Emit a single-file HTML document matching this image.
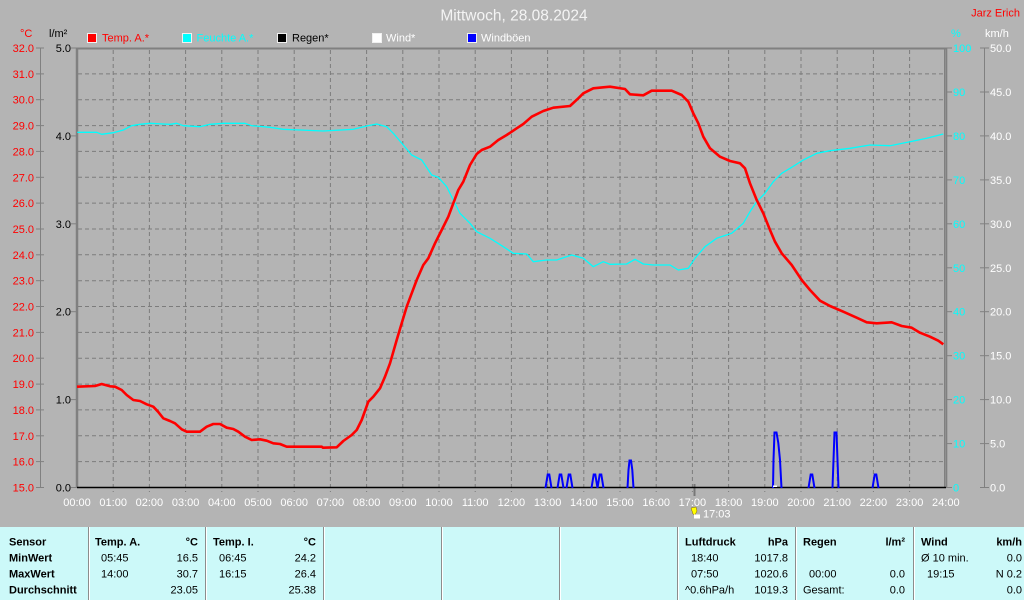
<!DOCTYPE html>
<html><head><meta charset="utf-8"><style>
html,body{margin:0;padding:0;background:#b4b4b4;}
svg{display:block;font-family:"Liberation Sans",sans-serif;}
</style></head><body>
<svg width="1024" height="600" viewBox="0 0 1024 600" xmlns="http://www.w3.org/2000/svg">
<rect x="0" y="0" width="1024" height="600" fill="#b4b4b4"/>
<!-- title -->
<text x="514" y="20.5" font-size="15.5" fill="#f4f4f4" text-anchor="middle">Mittwoch, 28.08.2024</text>
<text x="1020" y="16.5" font-size="11" fill="#ff0000" text-anchor="end">Jarz Erich</text>
<!-- axis headers -->
<text x="20" y="37" font-size="11" fill="#ff0000">°C</text>
<text x="49" y="37" font-size="11" fill="#000">l/m²</text>
<text x="951" y="37" font-size="11" fill="#00ffff">%</text>
<text x="985" y="37" font-size="11" fill="#ffffff">km/h</text>
<!-- legend -->
<g font-size="11">
<rect x="87.5" y="33.5" width="9" height="9" fill="#ff0000" stroke="#f0f0f0"/>
<text x="102" y="41.5" fill="#ff0000">Temp. A.*</text>
<rect x="182.5" y="33.5" width="9" height="9" fill="#00ffff" stroke="#f0f0f0"/>
<text x="196.5" y="41.5" fill="#00ffff">Feuchte A.*</text>
<rect x="277.5" y="33.5" width="9" height="9" fill="#000000" stroke="#f0f0f0"/>
<text x="292" y="41.5" fill="#000">Regen*</text>
<rect x="372.5" y="33.5" width="9" height="9" fill="#ffffff" stroke="#f0f0f0"/>
<text x="386" y="41.5" fill="#fff">Wind*</text>
<rect x="467.5" y="33.5" width="9" height="9" fill="#0000ff" stroke="#f0f0f0"/>
<text x="481" y="41.5" fill="#fff">Windböen</text>
</g>
<!-- grid -->
<g stroke="#7c7c7c" stroke-width="1" stroke-dasharray="4,3">
<line x1="113.2" y1="50" x2="113.2" y2="492"/><line x1="149.4" y1="50" x2="149.4" y2="492"/>
<line x1="185.6" y1="50" x2="185.6" y2="492"/><line x1="221.8" y1="50" x2="221.8" y2="492"/>
<line x1="258" y1="50" x2="258" y2="492"/><line x1="294.2" y1="50" x2="294.2" y2="492"/>
<line x1="330.4" y1="50" x2="330.4" y2="492"/><line x1="366.6" y1="50" x2="366.6" y2="492"/>
<line x1="402.8" y1="50" x2="402.8" y2="492"/><line x1="439" y1="50" x2="439" y2="492"/>
<line x1="475.2" y1="50" x2="475.2" y2="492"/><line x1="511.4" y1="50" x2="511.4" y2="492"/>
<line x1="547.6" y1="50" x2="547.6" y2="492"/><line x1="583.8" y1="50" x2="583.8" y2="492"/>
<line x1="620" y1="50" x2="620" y2="492"/><line x1="656.2" y1="50" x2="656.2" y2="492"/>
<line x1="692.4" y1="50" x2="692.4" y2="492"/><line x1="728.6" y1="50" x2="728.6" y2="492"/>
<line x1="764.8" y1="50" x2="764.8" y2="492"/><line x1="801" y1="50" x2="801" y2="492"/>
<line x1="837.2" y1="50" x2="837.2" y2="492"/><line x1="873.4" y1="50" x2="873.4" y2="492"/>
<line x1="909.6" y1="50" x2="909.6" y2="492"/>
<line x1="78" y1="461.6" x2="944" y2="461.6"/><line x1="78" y1="435.8" x2="944" y2="435.8"/>
<line x1="78" y1="409.9" x2="944" y2="409.9"/><line x1="78" y1="384.1" x2="944" y2="384.1"/>
<line x1="78" y1="358.2" x2="944" y2="358.2"/><line x1="78" y1="332.4" x2="944" y2="332.4"/>
<line x1="78" y1="306.5" x2="944" y2="306.5"/><line x1="78" y1="280.7" x2="944" y2="280.7"/>
<line x1="78" y1="254.8" x2="944" y2="254.8"/><line x1="78" y1="229" x2="944" y2="229"/>
<line x1="78" y1="203.1" x2="944" y2="203.1"/><line x1="78" y1="177.3" x2="944" y2="177.3"/>
<line x1="78" y1="151.4" x2="944" y2="151.4"/><line x1="78" y1="125.6" x2="944" y2="125.6"/>
<line x1="78" y1="99.7" x2="944" y2="99.7"/><line x1="78" y1="73.9" x2="944" y2="73.9"/>
</g>
<!-- frame -->
<line x1="77" y1="48.5" x2="947" y2="48.5" stroke="#808080" stroke-width="2"/>
<line x1="77" y1="47.5" x2="77" y2="488" stroke="#808080" stroke-width="2.5"/>
<line x1="944.5" y1="47.5" x2="944.5" y2="488" stroke="#808080" stroke-width="1"/>
<line x1="946.3" y1="47.5" x2="946.3" y2="488" stroke="#808080" stroke-width="2"/>
<!-- left temp axis -->
<line x1="40.5" y1="48" x2="40.5" y2="487.5" stroke="#808080" stroke-width="1"/>
<g stroke="#808080" stroke-width="1">
<line x1="36" y1="48" x2="44" y2="48"/><line x1="36" y1="73.9" x2="44" y2="73.9"/><line x1="36" y1="99.7" x2="44" y2="99.7"/>
<line x1="36" y1="125.6" x2="44" y2="125.6"/><line x1="36" y1="151.4" x2="44" y2="151.4"/><line x1="36" y1="177.3" x2="44" y2="177.3"/>
<line x1="36" y1="203.1" x2="44" y2="203.1"/><line x1="36" y1="229" x2="44" y2="229"/><line x1="36" y1="254.8" x2="44" y2="254.8"/>
<line x1="36" y1="280.7" x2="44" y2="280.7"/><line x1="36" y1="306.5" x2="44" y2="306.5"/><line x1="36" y1="332.4" x2="44" y2="332.4"/>
<line x1="36" y1="358.2" x2="44" y2="358.2"/><line x1="36" y1="384.1" x2="44" y2="384.1"/><line x1="36" y1="409.9" x2="44" y2="409.9"/>
<line x1="36" y1="435.8" x2="44" y2="435.8"/><line x1="36" y1="461.6" x2="44" y2="461.6"/><line x1="36" y1="487.5" x2="44" y2="487.5"/>
<!-- rain ticks -->
<line x1="71" y1="48" x2="77" y2="48"/><line x1="71" y1="135.9" x2="77" y2="135.9"/><line x1="71" y1="223.8" x2="77" y2="223.8"/>
<line x1="71" y1="311.7" x2="77" y2="311.7"/><line x1="71" y1="399.6" x2="77" y2="399.6"/><line x1="71" y1="487.5" x2="77" y2="487.5"/>
<!-- % ticks -->
<line x1="947" y1="48" x2="952" y2="48"/><line x1="947" y1="92" x2="952" y2="92"/><line x1="947" y1="135.9" x2="952" y2="135.9"/>
<line x1="947" y1="179.9" x2="952" y2="179.9"/><line x1="947" y1="223.8" x2="952" y2="223.8"/><line x1="947" y1="267.8" x2="952" y2="267.8"/>
<line x1="947" y1="311.7" x2="952" y2="311.7"/><line x1="947" y1="355.7" x2="952" y2="355.7"/><line x1="947" y1="399.6" x2="952" y2="399.6"/>
<line x1="947" y1="443.6" x2="952" y2="443.6"/><line x1="947" y1="487.5" x2="952" y2="487.5"/>
<!-- km/h axis -->
<line x1="984.5" y1="48" x2="984.5" y2="487.5"/>
<line x1="980" y1="48" x2="989" y2="48"/><line x1="980" y1="92" x2="989" y2="92"/><line x1="980" y1="135.9" x2="989" y2="135.9"/>
<line x1="980" y1="179.9" x2="989" y2="179.9"/><line x1="980" y1="223.8" x2="989" y2="223.8"/><line x1="980" y1="267.8" x2="989" y2="267.8"/>
<line x1="980" y1="311.7" x2="989" y2="311.7"/><line x1="980" y1="355.7" x2="989" y2="355.7"/><line x1="980" y1="399.6" x2="989" y2="399.6"/>
<line x1="980" y1="443.6" x2="989" y2="443.6"/><line x1="980" y1="487.5" x2="989" y2="487.5"/>
</g>
<g font-size="11" fill="#ff0000" text-anchor="end">
<text x="34" y="52">32.0</text><text x="34" y="77.9">31.0</text><text x="34" y="103.7">30.0</text>
<text x="34" y="129.6">29.0</text><text x="34" y="155.4">28.0</text><text x="34" y="181.3">27.0</text>
<text x="34" y="207.1">26.0</text><text x="34" y="233">25.0</text><text x="34" y="258.8">24.0</text>
<text x="34" y="284.7">23.0</text><text x="34" y="310.5">22.0</text><text x="34" y="336.4">21.0</text>
<text x="34" y="362.2">20.0</text><text x="34" y="388.1">19.0</text><text x="34" y="413.9">18.0</text>
<text x="34" y="439.8">17.0</text><text x="34" y="465.6">16.0</text><text x="34" y="491.5">15.0</text>
</g>
<g font-size="11" fill="#000" text-anchor="end">
<text x="71" y="52">5.0</text><text x="71" y="139.9">4.0</text><text x="71" y="227.8">3.0</text>
<text x="71" y="315.7">2.0</text><text x="71" y="403.6">1.0</text><text x="71" y="491.5">0.0</text>
</g>
<g font-size="11" fill="#00ffff">
<text x="953" y="52">100</text><text x="953" y="96">90</text><text x="953" y="139.9">80</text>
<text x="953" y="183.9">70</text><text x="953" y="227.8">60</text><text x="953" y="271.8">50</text>
<text x="953" y="315.7">40</text><text x="953" y="359.7">30</text><text x="953" y="403.6">20</text>
<text x="953" y="447.6">10</text><text x="953" y="491.5">0</text>
</g>
<g font-size="11" fill="#ffffff">
<text x="990" y="52">50.0</text><text x="990" y="96">45.0</text><text x="990" y="139.9">40.0</text>
<text x="990" y="183.9">35.0</text><text x="990" y="227.8">30.0</text><text x="990" y="271.8">25.0</text>
<text x="990" y="315.7">20.0</text><text x="990" y="359.7">15.0</text><text x="990" y="403.6">10.0</text>
<text x="990" y="447.6">5.0</text><text x="990" y="491.5">0.0</text>
</g>
<!-- x labels -->
<g font-size="11" fill="#ffffff" text-anchor="middle">
<text x="77" y="506">00:00</text><text x="113.2" y="506">01:00</text><text x="149.4" y="506">02:00</text>
<text x="185.6" y="506">03:00</text><text x="221.8" y="506">04:00</text><text x="258" y="506">05:00</text>
<text x="294.2" y="506">06:00</text><text x="330.4" y="506">07:00</text><text x="366.6" y="506">08:00</text>
<text x="402.8" y="506">09:00</text><text x="439" y="506">10:00</text><text x="475.2" y="506">11:00</text>
<text x="511.4" y="506">12:00</text><text x="547.6" y="506">13:00</text><text x="583.8" y="506">14:00</text>
<text x="620" y="506">15:00</text><text x="656.2" y="506">16:00</text><text x="692.4" y="506">17:00</text>
<text x="728.6" y="506">18:00</text><text x="764.8" y="506">19:00</text><text x="801" y="506">20:00</text>
<text x="837.2" y="506">21:00</text><text x="873.4" y="506">22:00</text><text x="909.6" y="506">23:00</text>
<text x="945.8" y="506">24:00</text>
</g>
<!-- 17:03 marker -->
<rect x="693.5" y="484" width="2" height="12" fill="#777"/>
<polygon points="691,508 696,507 697,511 695,515 693,514" fill="#ffff00" stroke="#806000" stroke-width="0.5"/>
<rect x="694" y="514.5" width="6" height="4" fill="#ffffff"/>
<text x="703" y="517.5" font-size="11" fill="#ffffff">17:03</text>
<!-- humidity -->
<polyline fill="none" stroke="#00ffff" stroke-width="1.3" stroke-linejoin="round" points="77.3,132.3 96.7,132.3 101.7,134.3 113.3,132.7 123.3,130 131.7,125.7 140,124.3 150,123.3 163.3,124 170,124.3 176.7,123.3 183.3,125.7 200,126.7 210,124.3 223.3,123.3 245,123.3 251.7,125.7 270,127.3 283.3,129.3 300,130 323.3,131 353.3,129.3 366.7,126 376.7,124 386.7,126.7 393.3,133.3 403.3,145 411.7,155 421.7,160 431.7,175 438.3,177.3 446.7,186.7 453.3,200 460,213.3 470,223.3 476.7,231.7 490,238.3 503.3,246.7 513.3,253.3 526.7,254 533.3,261.7 546.7,260 556.7,260 571.7,255 583.3,258.3 593.3,266.7 603.3,261.7 610,264.3 626.7,264 635,259.3 643.3,264 653.3,265 670,265 678.3,270 688.3,268.3 695,258.3 705,246.7 716.7,238.3 731.7,233.3 743.3,223.3 750,211.7 756.7,201.7 765,193.3 773.3,181.7 781.7,173.3 791.7,167.3 803.3,160 816.7,153.3 830,150.7 850,148.3 870,145 890,145.7 910,141.7 926.7,138.3 943.3,134"/>
<!-- temperature -->
<polyline fill="none" stroke="#ff0000" stroke-width="2.6" stroke-linejoin="round" points="77,386.7 95,386 101.7,384 110,386.3 115,386.7 121.7,390 126.7,395 133.3,400 140,401 146.7,404.3 153.3,406.7 158,411.7 163.3,418.3 170,421 175,423.3 181.7,429.3 186.7,431.7 200,431.7 206.7,426.7 213.3,424 220,424 226.7,427.7 233.3,429 238.3,431.7 245,436.7 251.7,440 260,439.3 266.7,440.7 273.3,443.3 280,444 286.7,446.7 300,446.7 321.7,446.7 323,447.7 336.7,447.3 343.3,441 351.7,435 356.7,430 361.7,420 368.3,401.7 373.3,396.7 380,388.3 385,376.7 390,363.3 396.7,340 401.7,323.3 406.7,306.7 411.7,293.3 416.7,280 423.3,265 428.3,258.3 435,243.3 441.7,230 448.3,216.7 453.3,203.3 458.3,190 463.3,181.7 470,165 476.7,154 481.7,150 490,146.7 498.3,140 506.7,135 516.7,128.3 523.3,124 531.7,116.7 543.3,111 553.3,107.7 570,106 578.3,98.3 583.3,93.3 593.3,88.3 603.3,87.3 610,86.7 625,89 630,94.3 643.3,95.3 651.7,90.7 671.7,90.7 681.7,95 688.3,101.7 693.3,113.3 698.3,123.3 703.3,136.7 710,148.3 720,156.7 730,161 740,163.3 745,168.3 750,183.3 756.7,200 763.3,213.3 770,230 775,241.7 781.7,253.3 791.7,265 801.7,280 810,290 820,300.7 830,306 843.3,311.7 856.7,317.7 866.7,322.3 876.7,323.3 891.7,322.3 901.7,326 911.7,327.7 920,332.7 930,336.7 938.3,340.7 943.3,344.3"/>
<!-- bottom axis -->
<line x1="77" y1="487.5" x2="946" y2="487.5" stroke="#000" stroke-width="1.6"/>
<!-- wind gusts -->
<g fill="none" stroke="#0000ff" stroke-width="2" stroke-linejoin="miter">
<polyline points="545.5,488 547.7,474.5 549.3,474.5 551.5,488"/>
<polyline points="557.5,488 559.7,474.5 561.3,474.5 563.5,488"/>
<polyline points="566.5,488 568.7,474.5 570.3,474.5 572.5,488"/>
<polyline points="591.5,488 593.7,474.5 595.3,474.5 597.5,488"/>
<polyline points="597.5,488 599.7,474.5 601.3,474.5 603.5,488"/>
<polyline points="627.5,488 628.5,470 629.5,460.5 631,460.5 632.3,470 633.5,488"/>
<polyline points="773,488 773.5,460 774.5,432.5 776.5,432.5 778.3,443 780,460 781.5,488"/>
<polyline points="808.5,488 810.7,474.5 812.3,474.5 814.5,488"/>
<polyline points="832.5,488 833.5,460 834.5,432.5 836.5,432.5 837.5,460 838.5,488"/>
<polyline points="872.5,488 874.7,474.5 876.3,474.5 878.5,488"/>
</g>
<rect x="773" y="485.5" width="4" height="1.5" fill="#ffffff"/>
<!-- table -->
<rect x="0" y="527" width="1024" height="73" fill="#ccf9f9"/>
<g stroke-width="1">
<line x1="88.5" y1="527" x2="88.5" y2="600" stroke="#8c8c8c"/><line x1="89.5" y1="527" x2="89.5" y2="600" stroke="#ffffff"/>
<line x1="205.5" y1="527" x2="205.5" y2="600" stroke="#8c8c8c"/><line x1="206.5" y1="527" x2="206.5" y2="600" stroke="#ffffff"/>
<line x1="323.5" y1="527" x2="323.5" y2="600" stroke="#8c8c8c"/><line x1="324.5" y1="527" x2="324.5" y2="600" stroke="#ffffff"/>
<line x1="441.5" y1="527" x2="441.5" y2="600" stroke="#8c8c8c"/><line x1="442.5" y1="527" x2="442.5" y2="600" stroke="#ffffff"/>
<line x1="559.5" y1="527" x2="559.5" y2="600" stroke="#8c8c8c"/><line x1="560.5" y1="527" x2="560.5" y2="600" stroke="#ffffff"/>
<line x1="677.5" y1="527" x2="677.5" y2="600" stroke="#8c8c8c"/><line x1="678.5" y1="527" x2="678.5" y2="600" stroke="#ffffff"/>
<line x1="795.5" y1="527" x2="795.5" y2="600" stroke="#8c8c8c"/><line x1="796.5" y1="527" x2="796.5" y2="600" stroke="#ffffff"/>
<line x1="913.5" y1="527" x2="913.5" y2="600" stroke="#8c8c8c"/><line x1="914.5" y1="527" x2="914.5" y2="600" stroke="#ffffff"/>
</g>
<g font-size="11" fill="#000">
<g font-weight="bold">
<text x="9" y="545.7">Sensor</text><text x="9" y="561.7">MinWert</text><text x="9" y="577.3">MaxWert</text><text x="9" y="593.3">Durchschnitt</text>
<text x="95" y="545.7">Temp. A.</text><text x="198" y="545.7" text-anchor="end">°C</text>
<text x="213" y="545.7">Temp. I.</text><text x="316" y="545.7" text-anchor="end">°C</text>
<text x="685" y="545.7">Luftdruck</text><text x="788" y="545.7" text-anchor="end">hPa</text>
<text x="803" y="545.7">Regen</text><text x="905" y="545.7" text-anchor="end">l/m²</text>
<text x="921" y="545.7">Wind</text><text x="1022" y="545.7" text-anchor="end">km/h</text>
</g>
<text x="101" y="561.7">05:45</text><text x="198" y="561.7" text-anchor="end">16.5</text>
<text x="101" y="577.3">14:00</text><text x="198" y="577.3" text-anchor="end">30.7</text>
<text x="198" y="593.3" text-anchor="end">23.05</text>
<text x="219" y="561.7">06:45</text><text x="316" y="561.7" text-anchor="end">24.2</text>
<text x="219" y="577.3">16:15</text><text x="316" y="577.3" text-anchor="end">26.4</text>
<text x="316" y="593.3" text-anchor="end">25.38</text>
<text x="691" y="561.7">18:40</text><text x="788" y="561.7" text-anchor="end">1017.8</text>
<text x="691" y="577.3">07:50</text><text x="788" y="577.3" text-anchor="end">1020.6</text>
<text x="685" y="593.3">^0.6hPa/h</text><text x="788" y="593.3" text-anchor="end">1019.3</text>
<text x="809" y="577.3">00:00</text><text x="905" y="577.3" text-anchor="end">0.0</text>
<text x="803" y="593.3">Gesamt:</text><text x="905" y="593.3" text-anchor="end">0.0</text>
<text x="921" y="561.7">Ø 10 min.</text><text x="1022" y="561.7" text-anchor="end">0.0</text>
<text x="927" y="577.3">19:15</text><text x="1022" y="577.3" text-anchor="end">N 0.2</text>
<text x="1022" y="593.3" text-anchor="end">0.0</text>
</g>
</svg>
</body></html>
